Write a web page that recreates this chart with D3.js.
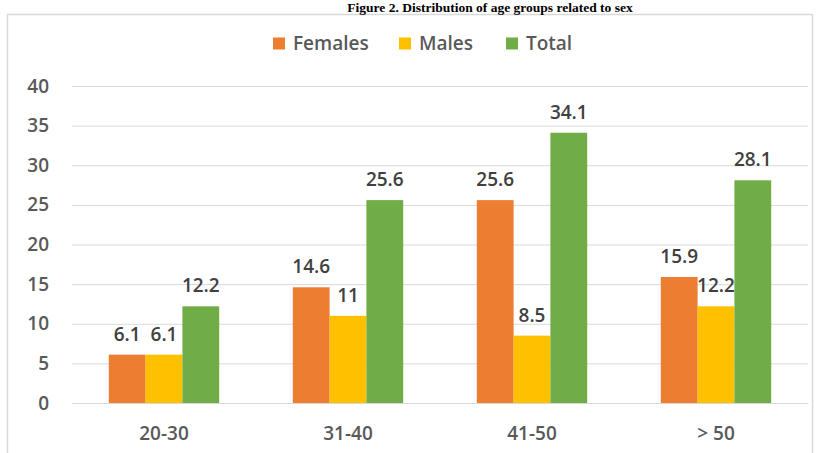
<!DOCTYPE html>
<html>
<head>
<meta charset="utf-8">
<script src="https://cdn.jsdelivr.net/npm/d3@7"></script>
<style>
  html, body { margin: 0; padding: 0; background: #fff; }
  svg { display: block; }
</style>
</head>
<body>
<svg id="chart" width="817" height="453"></svg>
<script>
// Age groups and percentage by sex
const categories = ["20-30", "31-40", "41-50", "> 50"];
const seriesNames = ["Females", "Males", "Total"];
const females = [6.1, 14.6, 25.6, 15.9];
const males = [6.1, 11, 8.5, 12.2];
const total = [12.2, 25.6, 34.1, 28.1];
const yTicks = [0, 5, 10, 15, 20, 25, 30, 35, 40];
const colors = ["#ED7D31", "#FFC000", "#70AD47"];

const seriesValues = [females, males, total];

const svg = d3.select("#chart");
const font = "'Open Sans', 'DejaVu Sans', sans-serif";

// Chart frame
svg.append("rect")
  .attr("x", 7.5).attr("y", 14.5)
  .attr("width", 805).attr("height", 445)
  .attr("fill", "#fff")
  .attr("stroke", "#d9d9d9")
  .attr("stroke-width", 1.5);

// Title
svg.append("text")
  .attr("x", 490).attr("y", 12)
  .attr("text-anchor", "middle")
  .attr("font-family", "'Liberation Serif', 'Times New Roman', serif")
  .attr("font-weight", "bold")
  .attr("font-size", 13.5)
  .attr("fill", "#000")
  .text("Figure 2. Distribution of age groups related to sex");

const plot = { left: 72, right: 808, top: 86, bottom: 403 };

const x0 = d3.scaleBand()
  .domain(categories)
  .range([plot.left, plot.right])
  .paddingInner(0.4)
  .paddingOuter(0.2);

const x1 = d3.scaleBand()
  .domain(seriesNames)
  .range([0, x0.bandwidth()]);

const y = d3.scaleLinear()
  .domain([0, 40])
  .range([plot.bottom, plot.top]);

// Gridlines and y axis labels
const yAxis = d3.axisLeft(y)
  .tickValues(yTicks)
  .tickSize(-(plot.right - plot.left))
  .tickPadding(23);

const gy = svg.append("g")
  .attr("transform", `translate(${plot.left},0)`)
  .call(yAxis);
gy.select(".domain").remove();
gy.selectAll(".tick line").attr("stroke", "#d9d9d9").attr("stroke-width", 1);
gy.selectAll(".tick text")
  .attr("font-family", font)
  .attr("font-size", 19)
  .attr("font-weight", 600)
  .attr("fill", "#595959");

// Category axis
const xAxis = d3.axisBottom(x0).tickSize(0).tickPadding(24);
const gx = svg.append("g")
  .attr("transform", `translate(0,${plot.bottom})`)
  .call(xAxis);
gx.select(".domain").attr("stroke", "#d9d9d9");
gx.selectAll(".tick text")
  .attr("font-family", font)
  .attr("font-size", 19)
  .attr("font-weight", 600)
  .attr("fill", "#595959");

// Bars
const rows = categories.map((c, i) => ({
  cat: c,
  vals: seriesNames.map((s, j) => ({ s, j, v: seriesValues[j][i] }))
}));

const groups = svg.append("g").selectAll("g")
  .data(rows)
  .join("g")
  .attr("transform", d => `translate(${x0(d.cat)},0)`);

groups.selectAll("rect")
  .data(d => d.vals)
  .join("rect")
  .attr("x", d => x1(d.s))
  .attr("y", d => y(d.v))
  .attr("width", x1.bandwidth())
  .attr("height", d => y(0) - y(d.v))
  .attr("fill", d => colors[d.j]);

groups.selectAll("text")
  .data(d => d.vals)
  .join("text")
  .attr("x", d => x1(d.s) + x1.bandwidth() / 2)
  .attr("y", d => y(d.v) - 14)
  .attr("text-anchor", "middle")
  .attr("font-family", font)
  .attr("font-size", 19)
  .attr("font-weight", 600)
  .attr("fill", "#404040")
  .text(d => d.v);

// Legend
const legendItems = [
  { name: "Females", x: 273 },
  { name: "Males", x: 399 },
  { name: "Total", x: 506 }
];
const lg = svg.append("g").selectAll("g")
  .data(legendItems)
  .join("g")
  .attr("transform", d => `translate(${d.x},43.5)`);
lg.append("rect")
  .attr("x", 0).attr("y", -6)
  .attr("width", 12).attr("height", 12)
  .attr("fill", (d, i) => colors[i]);
lg.append("text")
  .attr("x", 20).attr("y", 0)
  .attr("dy", "0.35em")
  .attr("font-family", font)
  .attr("font-size", 19)
  .attr("font-weight", 600)
  .attr("fill", "#595959")
  .text(d => d.name);
</script>
</body>
</html>
